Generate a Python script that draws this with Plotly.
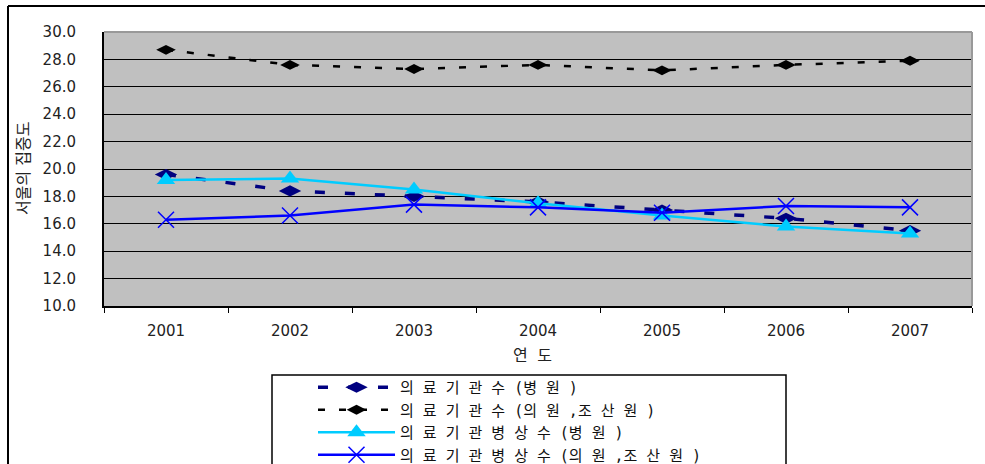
import plotly.graph_objects as go

years = ["2001", "2002", "2003", "2004", "2005", "2006", "2007"]
hosp_count = [19.6, 18.4, 18.0, 17.6, 17.0, 16.4, 15.5]
clinic_count = [28.7, 27.6, 27.3, 27.6, 27.2, 27.6, 27.9]
hosp_beds = [19.2, 19.3, 18.5, 17.5, 16.6, 15.8, 15.3]
clinic_beds = [16.3, 16.6, 17.4, 17.2, 16.8, 17.3, 17.2]

names = [
    "의 료 기 관 수 (병 원 )",
    "의 료 기 관 수 (의 원 ,조 산 원 )",
    "의 료 기 관 병 상 수 (병 원 )",
    "의 료 기 관 병 상 수 (의 원 ,조 산 원 )",
]
y_title = "서울의 집중도"
x_title = "연 도"

W, H = 985, 464
L, R, T, B = 104, 13, 32, 158

fig = go.Figure()
fig.add_trace(go.Scatter(x=years, y=hosp_count, name=names[0], mode="lines+markers",
                         line=dict(color="#000080", width=3.5, dash="10px,20px"),
                         marker=dict(symbol="diamond-wide", size=16, color="#000080")))
fig.add_trace(go.Scatter(x=years, y=clinic_count, name=names[1], mode="lines+markers",
                         line=dict(color="#000000", width=2.5, dash="7px,14px"),
                         marker=dict(symbol="diamond-wide", size=14, color="#000000")))
fig.add_trace(go.Scatter(x=years, y=hosp_beds, name=names[2], mode="lines+markers",
                         line=dict(color="#00ccff", width=2.5),
                         marker=dict(symbol="triangle-up", size=16, color="#00ccff")))
fig.add_trace(go.Scatter(x=years, y=clinic_beds, name=names[3], mode="lines+markers",
                         line=dict(color="#0000ff", width=2.5),
                         marker=dict(symbol="x-thin", size=16, color="#0000ff",
                                     line=dict(color="#0000ff", width=1.5))))

def px_x(p):
    return (p - L) / (W - L - R)

def px_y(p):
    return 1 - (p - T) / (H - T - B)

font_kr = "DejaVu Sans Mono, Noto Sans CJK KR, monospace"
font_kr2 = "DejaVu Sans, Noto Sans CJK KR, sans-serif"
font_num = "DejaVu Sans, sans-serif"
txt = "#222222"

fig.update_layout(
    width=W, height=H,
    margin=dict(l=L, r=R, t=T, b=B, autoexpand=False),
    paper_bgcolor="white",
    plot_bgcolor="#c0c0c0",
    font=dict(family=font_kr, size=15, color=txt),
    showlegend=True,
    legend=dict(
        x=px_x(313), y=px_y(371), xanchor="left", yanchor="top",
        borderwidth=0, bgcolor="rgba(0,0,0,0)",
        font=dict(size=15, family=font_kr, color="#111111"),
        itemwidth=77, tracegroupgap=0,
    ),
    xaxis=dict(
        type="category", range=[-0.5, 6.5],
        showgrid=False, showline=True, linecolor="#000000", linewidth=2,
        ticks="outside", tickson="boundaries", ticklen=5, tickcolor="#000000",
        tickfont=dict(size=15, family=font_num, color=txt),
        ticklabelstandoff=10,
        fixedrange=True,
    ),
    yaxis=dict(
        range=[10, 30], dtick=2, tickformat=".1f",
        showgrid=True, gridcolor="#000000", gridwidth=1,
        showline=True, linecolor="#000000", linewidth=2,
        ticks="inside", ticklen=5, tickcolor="#000000",
        tickfont=dict(size=15, family=font_num, color=txt),
        ticklabelstandoff=23,
        zeroline=False, fixedrange=True,
    ),
    annotations=[
        dict(text=y_title, xref="paper", yref="paper", x=px_x(23), y=px_y(169),
             textangle=-90, showarrow=False, xanchor="center", yanchor="middle",
             font=dict(size=16, family=font_kr2, color=txt)),
        dict(text=x_title, xref="paper", yref="paper", x=px_x(532), y=px_y(355),
             showarrow=False, xanchor="center", yanchor="middle",
             font=dict(size=16, family=font_kr, color=txt)),
    ],
)

# plot area border (top/right in gray)
fig.add_shape(type="line", xref="paper", yref="paper", x0=0, x1=1, y0=1, y1=1,
              line=dict(color="#999999", width=2))
fig.add_shape(type="line", xref="paper", yref="paper", x0=1, x1=1, y0=0, y1=1,
              line=dict(color="#999999", width=2))
# outer chart frame (left and top)
fig.add_shape(type="line", xref="paper", yref="paper", x0=px_x(8), x1=px_x(990), y0=px_y(6), y1=px_y(6),
              line=dict(color="#000000", width=2))
fig.add_shape(type="line", xref="paper", yref="paper", x0=px_x(8), x1=px_x(8), y0=px_y(6), y1=px_y(470),
              line=dict(color="#000000", width=2))
# legend frame
fig.add_shape(type="rect", xref="paper", yref="paper", x0=px_x(272), x1=px_x(786), y0=px_y(375), y1=px_y(480),
              line=dict(color="#000000", width=1.5), fillcolor="rgba(0,0,0,0)")

fig.write_html("out.html",
               config={"displayModeBar": False},
               post_script="document.body.style.margin='0';document.documentElement.style.overflow='hidden';")
